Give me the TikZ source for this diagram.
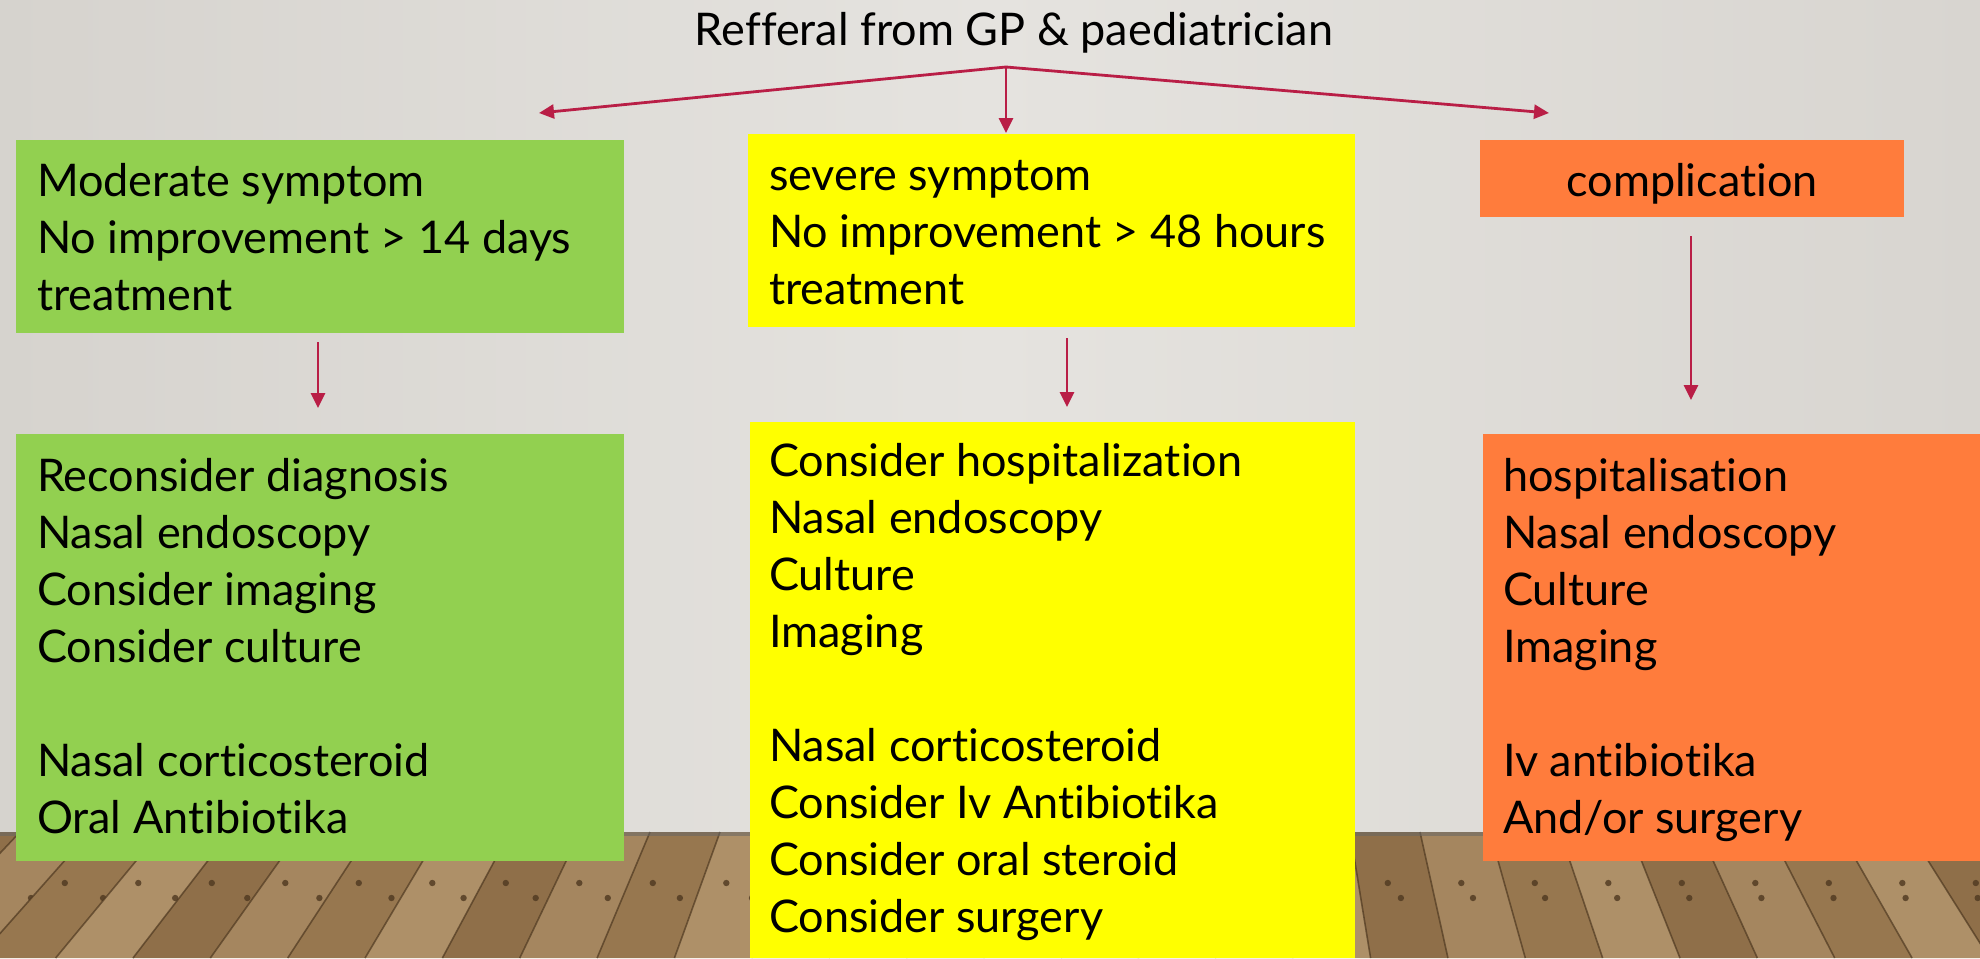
\documentclass[tikz,border=0pt]{standalone}
\usepackage{fontspec}
\setmainfont{Lato}[Ligatures=NoCommon]
\usetikzlibrary{arrows.meta}
\definecolor{boxgreen}{HTML}{92D050}
\definecolor{boxyellow}{HTML}{FFFF00}
\definecolor{boxorange}{HTML}{FF7C3C}
\definecolor{arrowred}{HTML}{B91E46}
\definecolor{wallL}{HTML}{D6D3CE}
\definecolor{wallC}{HTML}{E5E3DF}
\definecolor{wallR}{HTML}{D8D5D0}
\definecolor{woodA}{HTML}{A5865F}
\definecolor{woodB}{HTML}{97774F}
\definecolor{woodC}{HTML}{AE9068}
\definecolor{woodD}{HTML}{8F6F49}
\definecolor{woodline}{HTML}{4E3820}
\newcommand{\boxtxt}[5]{\parbox[c][#2][t]{#1}{\vspace*{#3}\raggedright\leftskip=#4\relax\fontsize{22.5pt}{28.5pt}\selectfont #5}}
\begin{document}
\begin{tikzpicture}[x=0.5pt,y=-0.5pt,
  box/.style={inner sep=0pt, outer sep=0pt, anchor=north west},
  arr/.style={draw=arrowred, line width=1.4pt, -{Triangle[length=7.5pt,width=7pt]}},
  title/.style={font=\fontsize{22.5pt}{28.5pt}\selectfont, inner sep=0pt, anchor=base}]
\useasboundingbox (0,0) rectangle (1980,958);
% wall
\shade[left color=wallL, right color=wallR, middle color=wallC] (0,0) rectangle (1980,832);
% floor
\fill[woodA] (0,832) rectangle (1980,958);
\foreach \i [count=\n] in {-3,...,29}{
  \pgfmathsetmacro{\xt}{70*\i+20}
  \pgfmathsetmacro{\xtt}{70*\i+90}
  \pgfmathsetmacro{\xb}{1154+(\xt-1154)*1.105}
  \pgfmathsetmacro{\xbb}{1154+(\xtt-1154)*1.105}
  \pgfmathtruncatemacro{\k}{mod(\n,4)}
  \ifcase\k
    \fill[woodA] (\xt,832) -- (\xtt,832) -- (\xbb,958) -- (\xb,958) -- cycle;
  \or
    \fill[woodB] (\xt,832) -- (\xtt,832) -- (\xbb,958) -- (\xb,958) -- cycle;
  \or
    \fill[woodC] (\xt,832) -- (\xtt,832) -- (\xbb,958) -- (\xb,958) -- cycle;
  \else
    \fill[woodD] (\xt,832) -- (\xtt,832) -- (\xbb,958) -- (\xb,958) -- cycle;
  \fi
  \draw[woodline, line width=0.8pt, opacity=0.7] (\xt,832) -- (\xb,958);
  \pgfmathsetmacro{\da}{\xt+28+(\xt-1154)*0.05}
  \pgfmathsetmacro{\db}{\xt+45+(\xt-1154)*0.03}
  \fill[woodline, opacity=0.8] (\da,883) circle (1.6pt);
  \fill[woodline, opacity=0.8] (\db,898) circle (1.6pt);
}
\fill[black!60, opacity=0.55] (0,832) rectangle (1980,836);

% title
\node[title] (ref) at (1014,45) {Refferal from GP \& paediatrician};
\coordinate (j) at (1006,67);
\coordinate (jl) at (539,113);
\coordinate (jm) at (1006,133);
\coordinate (jr) at (1549,113);

% boxes
\node[box, fill=boxgreen] (g1) at (16,140)
  {\boxtxt{304pt}{96.5pt}{8.05pt}{10.5pt}{\strut Moderate symptom\\No improvement > 14 days\\treatment}};
\node[box, fill=boxgreen] (g2) at (16,434)
  {\boxtxt{304pt}{213.5pt}{8.55pt}{10.5pt}{\strut Reconsider diagnosis\\Nasal endoscopy\\Consider imaging\\Consider culture\\[28.5pt]Nasal corticosteroid\\Oral Antibiotika}};
\node[box, fill=boxyellow] (y1) at (748,134)
  {\boxtxt{303.5pt}{96.5pt}{8.05pt}{10.5pt}{\strut severe symptom\\No improvement > 48 hours\\treatment}};
\node[box, fill=boxyellow] (y2) at (750,422)
  {\boxtxt{302.5pt}{268pt}{7.05pt}{9.5pt}{\strut Consider hospitalization\\Nasal endoscopy\\Culture\\Imaging\\[28.5pt]Nasal corticosteroid\\Consider Iv Antibiotika\\Consider oral steroid\\Consider surgery}};
\node[box, fill=boxorange] (o1) at (1480,140)
  {\parbox[c][38.5pt][t]{212pt}{\vspace*{8.05pt}\centering\fontsize{22.5pt}{28.5pt}\selectfont\strut complication}};
\node[box, fill=boxorange] (o2) at (1483,434)
  {\boxtxt{248.5pt}{213.5pt}{8.55pt}{10pt}{\strut hospitalisation\\Nasal endoscopy\\Culture\\Imaging\\[28.5pt]Iv antibiotika\\And/or surgery}};

% connectors
\draw[arr] (j) -- (jl);
\draw[arr] (j) -- (jm);
\draw[arr] (j) -- (jr);
\coordinate (g1a) at (318,342);
\coordinate (g1b) at (318,408);
\coordinate (y1a) at (1067,338);
\coordinate (y1b) at (1067,407);
\coordinate (o1a) at (1691,236);
\coordinate (o1b) at (1691,400);
\draw[arr] (g1a) -- (g1b);
\draw[arr] (y1a) -- (y1b);
\draw[arr] (o1a) -- (o1b);
\end{tikzpicture}
\end{document}
